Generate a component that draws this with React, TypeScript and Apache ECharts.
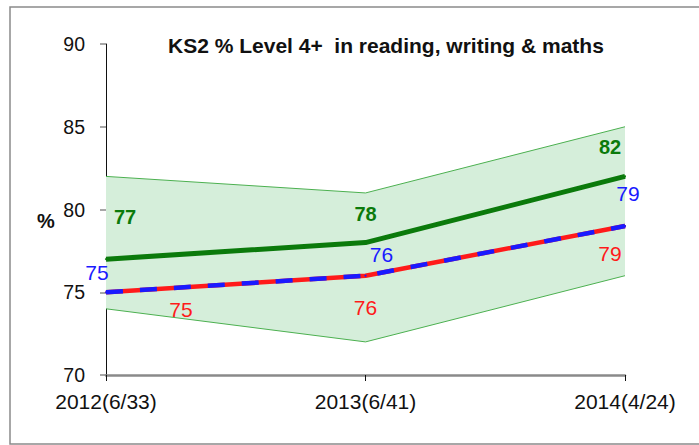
import React, { useEffect, useRef } from "react";
import * as echarts from "echarts";

const categories = ["2012(6/33)", "2013(6/41)", "2014(4/24)"];
const bandUpper = [82, 81, 85];
const bandLower = [74, 72, 76];
const greenSeries = [77, 78, 82];
const redSeries = [75, 76, 79];
const blueSeries = [75, 76, 79];
const yTicks = { min: 70, max: 90, interval: 5 };

const greenOffsets = [[19, -42], [0, -29], [-15, -29]];
const blueOffsets = [[-9, -20], [16, -21], [3, -33]];
const redOffsets = [[75, 17], [0, 32], [-15, 27]];

const FONT = "Liberation Sans, Arial, sans-serif";

function labelled(values: number[], offsets: number[][], color: string, bold: boolean) {
  return values.map((v, i) => ({
    value: v,
    label: {
      show: true,
      position: "inside",
      offset: offsets[i],
      color,
      fontSize: bold ? 20 : 21,
      fontWeight: bold ? "bold" : "normal",
      fontFamily: FONT,
      formatter: "{c}",
    },
  }));
}

export default function App() {
  const ref = useRef<HTMLDivElement>(null);
  useEffect(() => {
    const chart = echarts.init(ref.current!, null, { renderer: "svg" });
    const bandDiff = bandUpper.map((u, i) => u - bandLower[i]);
    chart.setOption({
      animation: false,
      backgroundColor: "#ffffff",
      grid: { left: 106, right: 74, top: 44, bottom: 70 },
      graphic: [
        {
          type: "rect",
          shape: { x: 10, y: 7, width: 720, height: 437 },
          style: { fill: "none", stroke: "#8a8a8a", lineWidth: 1.5 },
          silent: true,
        },
        {
          type: "text",
          left: 168,
          top: 35,
          style: {
            text: "KS2 % Level 4+  in reading, writing & maths",
            fontSize: 21,
            fontWeight: "bold",
            fontFamily: FONT,
            fill: "#111",
          },
        },
        {
          type: "text",
          left: 37,
          top: 211,
          style: {
            text: "%",
            fontSize: 20,
            fontWeight: "bold",
            fontFamily: FONT,
            fill: "#111",
          },
        },
      ],
      xAxis: {
        type: "category",
        data: categories,
        boundaryGap: false,
        axisLine: { lineStyle: { color: "#8a8a8a", width: 2.5 } },
        axisTick: { show: true, length: 6, lineStyle: { color: "#111", width: 1 } },
        axisLabel: {
          margin: 16,
          fontSize: 21,
          color: "#111",
          fontFamily: FONT,
        },
        splitLine: { show: false },
      },
      yAxis: {
        type: "value",
        min: yTicks.min,
        max: yTicks.max,
        interval: yTicks.interval,
        axisLine: { show: true, lineStyle: { color: "#111", width: 1 } },
        axisTick: { show: true, length: 6, lineStyle: { color: "#8a8a8a", width: 1.5 } },
        axisLabel: {
          margin: 21,
          fontSize: 19.5,
          color: "#111",
          fontFamily: FONT,
        },
        splitLine: { show: false },
      },
      series: [
        {
          type: "line",
          stack: "band",
          data: bandLower,
          symbol: "none",
          lineStyle: { color: "#4cb050", width: 1 },
          silent: true,
          z: 1,
        },
        {
          type: "line",
          stack: "band",
          data: bandDiff,
          symbol: "none",
          lineStyle: { color: "#4cb050", width: 1 },
          areaStyle: { color: "#d5eeda", opacity: 1 },
          silent: true,
          z: 1,
        },
        {
          type: "line",
          data: labelled(greenSeries, greenOffsets, "#0b7a0b", true),
          symbol: "circle",
          symbolSize: 2,
          itemStyle: { color: "#0b7a0b" },
          lineStyle: { color: "#0b7a0b", width: 5 },
          z: 3,
        },
        {
          type: "line",
          data: labelled(redSeries, redOffsets, "#ff1a1a", false),
          symbol: "circle",
          symbolSize: 2,
          itemStyle: { color: "#ff1a1a" },
          lineStyle: { color: "#ff1a1a", width: 4.5 },
          z: 4,
        },
        {
          type: "line",
          data: labelled(blueSeries, blueOffsets, "#1a1aff", false),
          symbol: "circle",
          symbolSize: 2,
          itemStyle: { color: "#1a1aff" },
          lineStyle: { color: "#1a1aff", width: 4.5, type: [17, 17] },
          z: 5,
        },
      ],
    });
    return () => chart.dispose();
  }, []);
  return <div ref={ref} style={{ width: 699, height: 445, position: "absolute", left: 0, top: 0 }} />;
}
